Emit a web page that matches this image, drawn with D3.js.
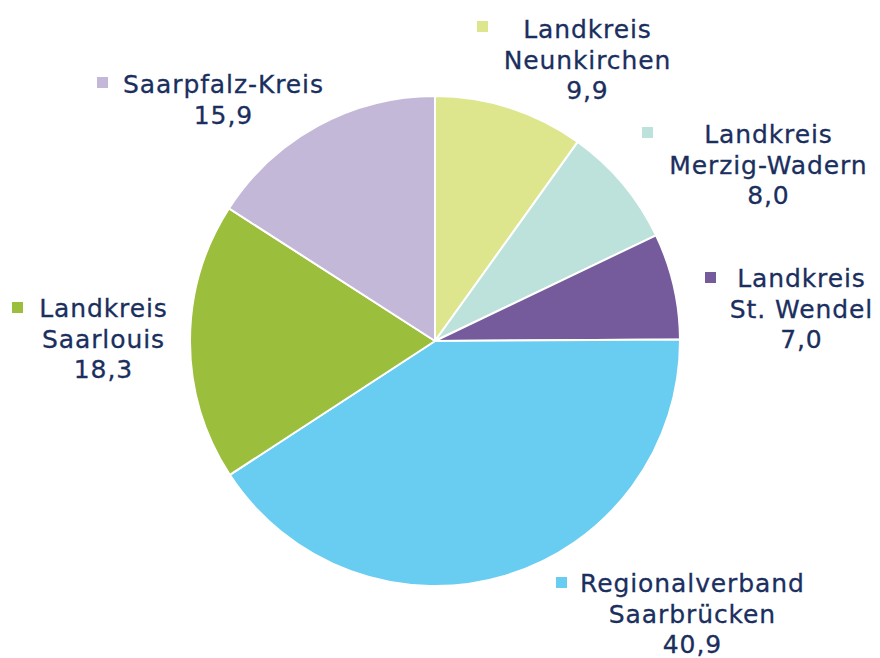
<!DOCTYPE html>
<html><head><meta charset="utf-8">
<script src="https://cdn.jsdelivr.net/npm/d3@7"></script>
<style>html,body{margin:0;padding:0;background:#fff;}svg{display:block;}</style>
</head><body>
<svg id="chart" width="880" height="658"></svg>
<script>
const categories = ["Landkreis Neunkirchen","Landkreis Merzig-Wadern","Landkreis St. Wendel","Regionalverband Saarbrücken","Landkreis Saarlouis","Saarpfalz-Kreis"];
const labelLines = [["Landkreis","Neunkirchen"],["Landkreis","Merzig-Wadern"],["Landkreis","St. Wendel"],["Regionalverband","Saarbrücken"],["Landkreis","Saarlouis"],["Saarpfalz-Kreis"]];
const values = [9.9, 8.0, 7.0, 40.9, 18.3, 15.9];
const colors = ["#dde68d","#bde2dc","#765b9c","#69cdf1","#9bbe3c","#c3b8d8"];

// layout: label text center x, first baseline y, marker x, marker y
const labelLayout = [
  {cx:587, y:38, mx:477, my:21},
  {cx:768, y:143, mx:642, my:127},
  {cx:801, y:287, mx:705, my:272},
  {cx:692, y:592, mx:556, my:577},
  {cx:103, y:317, mx:12, my:302},
  {cx:223, y:93, mx:97, my:77}
];

const svg = d3.select("#chart");
const cx = 435, cy = 341, r = 245;
const pie = d3.pie().sort(null).value(d => d);
const arc = d3.arc().innerRadius(0).outerRadius(r);
const g = svg.append("g").attr("transform", `translate(${cx},${cy})`);
g.selectAll("path").data(pie(values)).join("path")
  .attr("d", arc).attr("fill", (d,i) => colors[i])
  .attr("stroke", "#fff").attr("stroke-width", 2).attr("stroke-linejoin","round");

const fmt = v => d3.format(".1f")(v).replace(".", ",");
const lh = 30.5;
categories.forEach((c, i) => {
  const L = labelLayout[i];
  svg.append("rect").attr("x", L.mx).attr("y", L.my).attr("width", 11).attr("height", 11).attr("fill", colors[i]);
  const t = svg.append("text").attr("text-anchor","middle")
    .attr("font-family","'DejaVu Sans', Verdana, sans-serif").attr("font-size", 25)
    .attr("letter-spacing", "0.9px").attr("fill", "#1b2f5e")
    .attr("stroke", "#1b2f5e").attr("stroke-width", 0.3);
  const lines = labelLines[i].concat([fmt(values[i])]);
  lines.forEach((ln, k) => {
    t.append("tspan").attr("x", L.cx + 0.45).attr("y", L.y + k*lh).text(ln);
  });
});
</script>
</body></html>
